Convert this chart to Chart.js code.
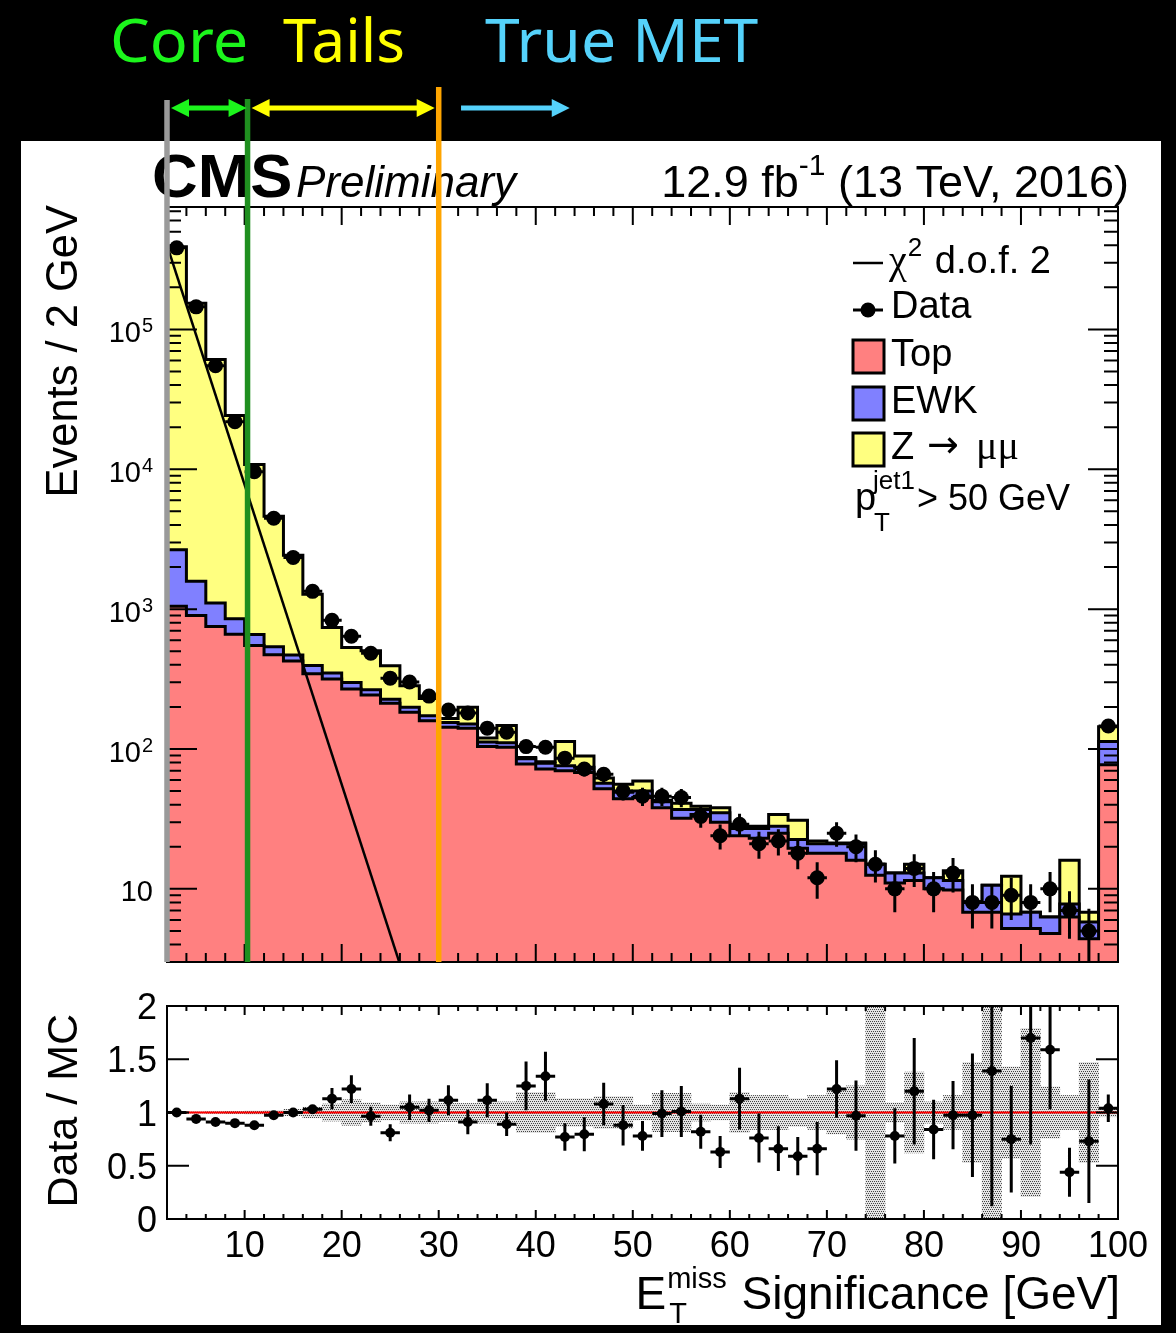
<!DOCTYPE html>
<html>
<head>
<meta charset="utf-8">
<title>MET significance</title>
<script src="https://cdn.jsdelivr.net/npm/chart.js@4.4.1/dist/chart.umd.min.js"></script>
<style>
  html, body { margin: 0; padding: 0; background: #000; }
  body { position: relative; width: 1176px; height: 1333px; overflow: hidden; }
  #sheet { position: absolute; left: 21px; top: 141px; width: 1140px; height: 1184px; background: #fff; }
  canvas { position: absolute; left: 0; }
  #main-chart { top: 0; }
  #ratio-chart { top: 985px; }
</style>
</head>
<body>
<div id="sheet"></div>
<canvas id="main-chart" width="1176" height="985"></canvas>
<canvas id="ratio-chart" width="1176" height="348"></canvas>
<script>
// 2 GeV bins from 2 to 100 (last bin holds the overflow)
const binCenters = [3, 5, 7, 9, 11, 13, 15, 17, 19, 21, 23, 25, 27, 29, 31, 33, 35, 37, 39, 41, 43, 45, 47, 49, 51,
                    53, 55, 57, 59, 61, 63, 65, 67, 69, 71, 73, 75, 77, 79, 81, 83, 85, 87, 89, 91, 93, 95, 97, 99];

const topMC = [1050, 900, 750, 660, 550, 472, 425, 345, 316, 268, 243, 212, 183, 159, 143, 141, 104, 103, 78, 72, 70, 68, 52, 44, 45,
               38, 32, 34, 30, 24, 23, 25, 19.5, 18, 18, 16, 12.5, 11, 11.5, 10, 9.8, 6.8, 6.8, 5.2, 5.2, 4.8, 6.3, 4.4, 77];
const ewkMC = [1610, 685, 357, 193, 108, 66, 44, 50, 33, 31, 22, 15, 16, 14, 12, 10, 8, 8, 7, 7, 6, 6, 5, 5, 5,
               4, 5, 3, 5, 3, 4, 3, 3, 3, 3, 5, 2.5, 2, 1.5, 2, 1.7, 1.3, 3.8, 1.4, 1.6, 1.5, 1.5, 1.4, 36];
const zmmMC = [387000, 152400, 59700, 23350, 10140, 4080, 1960, 885, 391, 233, 238, 167, 84, 57, 10, 48, 8, 36, 2, 2, 37, 15, 5, 7, 9,
               1, 4, 2, 3, 1, 1, 6, 8.5, 1, 0.3, 0.3, 0, 0, 2, 0, 2, 0, 0, 5.7, 0, 0, 8.2, 1, 31];

const dataCounts = [383000, 145000, 55000, 21900, 9600, 4460, 2340, 1340, 832, 640, 484, 321, 301, 239, 190, 181, 141, 132, 104, 103, 86, 72, 66, 50, 46,
                    46, 45, 33, 24, 29, 21, 22, 18, 12, 25, 20, 15, 10, 14, 10, 13, 8, 8, 9, 8, 10, 7, 5, 146];
// Poisson uncertainty of each count
const dataErr = [619, 381, 235, 148, 98, 67, 48, 37, 29, 25, 22, 18, 17, 15.5, 13.8, 13.5, 11.9, 11.5, 10.2, 10.1, 9.3, 8.5, 8.1, 7.1, 6.8,
                 6.8, 6.7, 5.7, 4.9, 5.4, 4.6, 4.7, 4.2, 3.5, 5, 4.5, 3.9, 3.2, 3.7, 3.2, 3.6, 2.8, 2.8, 3, 2.8, 3.2, 2.6, 2.2, 12.1];

// Data / MC
const ratioVals = [1.0, 0.94, 0.91, 0.9, 0.88, 0.975, 1.0, 1.03, 1.13, 1.22, 0.965, 0.81, 1.05, 1.02, 1.115, 0.91, 1.115, 0.89, 1.25, 1.34, 0.77, 0.795, 1.08, 0.88, 0.78,
                   0.99, 1.01, 0.82, 0.63, 1.13, 0.76, 0.66, 0.59, 0.66, 1.22, 0.97, null, 0.78, 1.2, 0.84, 0.975, 0.975, 1.39, 0.75, 1.7, 1.59, 0.44, 0.73, 1.04];
const ratioErr = [0.003, 0.004, 0.006, 0.008, 0.012, 0.02, 0.03, 0.04, 0.1, 0.13, 0.09, 0.08, 0.12, 0.11, 0.14, 0.115, 0.16, 0.11, 0.23, 0.23, 0.13, 0.16, 0.2, 0.19, 0.14,
                  0.22, 0.24, 0.16, 0.15, 0.29, 0.23, 0.21, 0.18, 0.25, 0.27, 0.33, null, 0.26, 0.5, 0.28, 0.32, 0.58, 1.27, 0.5, 1.0, 0.56, 0.23, 0.58, 0.13];
// half width of the MC uncertainty band
const mcBand = [0.005, 0.005, 0.008, 0.01, 0.015, 0.02, 0.03, 0.05, 0.08, 0.12, 0.09, 0.07, 0.1, 0.1, 0.085, 0.085, 0.1, 0.1, 0.19, 0.19, 0.13, 0.13, 0.15, 0.15, 0.07,
                0.18, 0.18, 0.08, 0.07, 0.19, 0.16, 0.16, 0.13, 0.16, 0.2, 0.25, 1.2, 0.09, 0.38, 0.1, 0.16, 0.47, 1.2, 0.43, 0.79, 0.24, 0.16, 0.47, 0.04];

// chi2 (2 d.o.f.) shape, straight on the log axis
const chi2X = [2, 26];
const chi2Y = [4.0e5, 2.9];

const xTickLabels = [10, 20, 30, 40, 50, 60, 70, 80, 90, 100];
const yDecades = [10, 100, 1000, 10000, 100000];
const ratioTicks = [0, 0.5, 1, 1.5, 2];

// Core | Tails | True MET boundaries
const regionEdges = [2, 10.3, 30];
const trueMetArrow = [32.3, 43.5];

const xMin = 2, xMax = 100;
const yMin = 3, yMax = 7.5e5;

const SANS = '"Liberation Sans", Arial, sans-serif';
const SERIF = '"Liberation Serif", "Times New Roman", serif';

const stackEwk = topMC.map((v, i) => v + ewkMC[i]);
const stackAll = stackEwk.map((v, i) => v + zmmMC[i]);

function steps(vals) {
  const pts = binCenters.map((c, i) => ({ x: c - 1, y: vals[i] }));
  pts.push({ x: xMax, y: vals[vals.length - 1] });
  return pts;
}

function errorBars(vals, errs) {
  const pts = [];
  binCenters.forEach((c, i) => {
    if (vals[i] == null) return;
    pts.push({ x: c - 1, y: vals[i] }, { x: c + 1, y: vals[i] }, { x: c, y: null });
    pts.push({ x: c, y: vals[i] - errs[i] }, { x: c, y: vals[i] + errs[i] }, { x: c, y: null });
  });
  return pts;
}

function markers(vals) {
  return binCenters.map((c, i) => ({ x: c, y: vals[i] })).filter(p => p.y != null);
}

function stipple() {
  const c = document.createElement('canvas');
  c.width = 4; c.height = 4;
  const g = c.getContext('2d');
  g.fillStyle = '#e4e4e4';
  g.fillRect(0, 0, 4, 4);
  g.fillStyle = '#444';
  g.fillRect(0, 0, 1, 1); g.fillRect(2, 0, 1, 1);
  g.fillRect(1, 2, 1, 1); g.fillRect(3, 2, 1, 1);
  return g.createPattern(c, 'repeat');
}

function text(ctx, s, x, y, font, opts = {}) {
  ctx.save();
  ctx.font = font;
  ctx.fillStyle = opts.color || '#000';
  ctx.textAlign = opts.align || 'left';
  ctx.textBaseline = 'alphabetic';
  ctx.translate(x, y);
  if (opts.rotate) ctx.rotate(opts.rotate);
  ctx.scale(opts.sx || 1, 1);
  ctx.fillText(s, 0, 0);
  const w = ctx.measureText(s).width * (opts.sx || 1);
  ctx.restore();
  return w;
}

function width(ctx, s, font) {
  ctx.save();
  ctx.font = font;
  const w = ctx.measureText(s).width;
  ctx.restore();
  return w;
}

function arrow(ctx, x1, x2, y, color, both) {
  const len = 18, half = 9;
  ctx.save();
  ctx.strokeStyle = color;
  ctx.fillStyle = color;
  ctx.lineWidth = 5;
  ctx.beginPath();
  ctx.moveTo(both ? x1 + len - 2 : x1, y);
  ctx.lineTo(x2 - len + 2, y);
  ctx.stroke();
  ctx.beginPath();
  ctx.moveTo(x2, y); ctx.lineTo(x2 - len, y - half); ctx.lineTo(x2 - len, y + half);
  ctx.closePath(); ctx.fill();
  if (both) {
    ctx.beginPath();
    ctx.moveTo(x1, y); ctx.lineTo(x1 + len, y - half); ctx.lineTo(x1 + len, y + half);
    ctx.closePath(); ctx.fill();
  }
  ctx.restore();
}

function xTicks(ctx, x, a, majorLen, minorLen) {
  ctx.beginPath();
  for (let v = 4; v < xMax; v += 2) {
    const px = x.getPixelForValue(v);
    const len = v % 10 === 0 ? majorLen : minorLen;
    ctx.moveTo(px, a.bottom); ctx.lineTo(px, a.bottom - len);
    ctx.moveTo(px, a.top); ctx.lineTo(px, a.top + len);
  }
  ctx.stroke();
}

const mainDecor = {
  id: 'mainDecor',
  afterDraw(chart) {
    const { ctx, chartArea: a, scales: { x, y } } = chart;
    ctx.save();
    ctx.strokeStyle = '#000';
    ctx.lineWidth = 2;
    ctx.strokeRect(a.left, a.top, a.right - a.left, a.bottom - a.top);
    xTicks(ctx, x, a, 18, 9);

    // log ticks on both sides
    ctx.beginPath();
    for (let d = 1; d <= 1e5; d *= 10) {
      for (let k = 1; k <= 9; k++) {
        const v = k * d;
        if (v <= yMin || v >= yMax) continue;
        const py = y.getPixelForValue(v);
        const len = k === 1 ? 30 : 14;
        ctx.moveTo(a.left, py); ctx.lineTo(a.left + len, py);
        ctx.moveTo(a.right, py); ctx.lineTo(a.right - len, py);
      }
    }
    ctx.stroke();

    yDecades.forEach(v => {
      const py = y.getPixelForValue(v);
      const exp = Math.round(Math.log10(v));
      if (exp === 1) {
        text(ctx, '10', 153, py + 12, `29px ${SANS}`, { align: 'right' });
      } else {
        text(ctx, String(exp), 153, py + 3, `20px ${SANS}`, { align: 'right' });
        text(ctx, '10', 141, py + 13, `29px ${SANS}`, { align: 'right' });
      }
    });

    text(ctx, 'Events / 2 GeV', 77, a.top - 2, `43.5px ${SANS}`, { align: 'right', rotate: -Math.PI / 2 });

    // labels above the frame
    text(ctx, 'CMS', 152, 197, `bold 62px ${SANS}`, { sx: 1.02 });
    text(ctx, 'Preliminary', 296, 197, `italic 44px ${SANS}`);
    const tail = ' (13 TeV, 2016)';
    const wTail = width(ctx, tail, `45px ${SANS}`);
    text(ctx, tail, 1129, 197, `45px ${SANS}`, { align: 'right' });
    const wSup = text(ctx, '-1', 1129 - wTail, 175, `30px ${SANS}`, { align: 'right' });
    text(ctx, '12.9 fb', 1129 - wTail - wSup, 197, `45px ${SANS}`, { align: 'right' });

    // legend
    const lx = 853, tx = 891;
    ctx.lineWidth = 2.5;
    ctx.beginPath(); ctx.moveTo(lx, 263); ctx.lineTo(lx + 30, 263); ctx.stroke();
    let w = text(ctx, 'χ', 889, 273, `40px ${SERIF}`);
    w += text(ctx, '2', 889 + w + 1, 256, `26px ${SANS}`);
    text(ctx, ' d.o.f. 2', 889 + w + 3, 273, `38px ${SANS}`);

    ctx.lineWidth = 3;
    ctx.beginPath(); ctx.moveTo(lx, 310); ctx.lineTo(lx + 30, 310); ctx.stroke();
    ctx.beginPath(); ctx.arc(lx + 15, 310, 7.5, 0, Math.PI * 2); ctx.fillStyle = '#000'; ctx.fill();
    text(ctx, 'Data', tx, 318, `38px ${SANS}`);

    const boxes = [['Top', '#ff8080', 340], ['EWK', '#8080ff', 387], ['Z', '#ffff80', 433]];
    boxes.forEach(([name, color, top]) => {
      ctx.fillStyle = color;
      ctx.fillRect(lx, top, 31, 33);
      ctx.lineWidth = 3;
      ctx.strokeStyle = '#000';
      ctx.strokeRect(lx, top, 31, 33);
      text(ctx, name, tx, top + 26, `38px ${SANS}`);
    });
    text(ctx, '→', 927, 457, `38px "DejaVu Sans", sans-serif`);
    text(ctx, 'μμ', 976, 459, `40px ${SERIF}`);

    text(ctx, 'p', 855, 510, `38px ${SANS}`);
    text(ctx, 'jet1', 873, 489, `26px ${SANS}`);
    text(ctx, 'T', 874, 531, `26px ${SANS}`);
    text(ctx, '> 50 GeV', 917, 510, `36px ${SANS}`);

    // region markers running up into the header
    const lineColors = ['#9a9a9a', '#1f8f1f', '#ffa500'];
    const lineTops = [100, 99, 87];
    regionEdges.forEach((v, i) => {
      const px = x.getPixelForValue(v);
      ctx.strokeStyle = lineColors[i];
      ctx.lineWidth = 5.5;
      ctx.beginPath(); ctx.moveTo(px, lineTops[i]); ctx.lineTo(px, a.bottom); ctx.stroke();
    });

    const e0 = x.getPixelForValue(regionEdges[0]);
    const e1 = x.getPixelForValue(regionEdges[1]);
    const e2 = x.getPixelForValue(regionEdges[2]);
    arrow(ctx, e0 + 4, e1 - 1, 108, '#1cf51c', true);
    arrow(ctx, e1 + 4, e2 - 4, 108, '#ffff00', true);
    arrow(ctx, x.getPixelForValue(trueMetArrow[0]), x.getPixelForValue(trueMetArrow[1]), 108, '#55d2fb', false);

    text(ctx, 'Core', 110, 62, `60px "Noto Sans", sans-serif`, { color: '#1cf51c', sx: 1.05 });
    text(ctx, 'Tails', 283, 62, `60px "Noto Sans", sans-serif`, { color: '#ffff00' });
    text(ctx, 'True MET', 485, 62, `60px "Noto Sans", sans-serif`, { color: '#55d2fb', sx: 1.04 });
    ctx.restore();
  }
};

const ratioDecor = {
  id: 'ratioDecor',
  afterDraw(chart) {
    const { ctx, chartArea: a, scales: { x, y } } = chart;
    ctx.save();
    ctx.strokeStyle = '#000';
    ctx.lineWidth = 2;
    ctx.strokeRect(a.left, a.top, a.right - a.left, a.bottom - a.top);
    xTicks(ctx, x, a, 9, 5);

    ctx.beginPath();
    ratioTicks.forEach(v => {
      const py = y.getPixelForValue(v);
      ctx.moveTo(a.left, py); ctx.lineTo(a.left + 22, py);
      ctx.moveTo(a.right, py); ctx.lineTo(a.right - 22, py);
    });
    ctx.stroke();

    ratioTicks.forEach(v => {
      text(ctx, String(v), 157, y.getPixelForValue(v) + 13, `36px ${SANS}`, { align: 'right' });
    });
    xTickLabels.forEach(v => {
      text(ctx, String(v), x.getPixelForValue(v), a.bottom + 38, `36px ${SANS}`, { align: 'center' });
    });

    text(ctx, 'Data / MC', 77, a.top + 8, `43px ${SANS}`, { align: 'right', rotate: -Math.PI / 2 });

    // E_T^miss Significance [GeV]
    const base = a.bottom + 90;
    const rest = ' Significance [GeV]';
    const wRest = text(ctx, rest, 1120, base, `46px ${SANS}`, { align: 'right' });
    const wMiss = width(ctx, 'miss', `29px ${SANS}`);
    const sx = 1120 - wRest - wMiss - 2;
    text(ctx, 'miss', sx, base - 21, `29px ${SANS}`);
    text(ctx, 'T', sx + 2, base + 14, `29px ${SANS}`);
    text(ctx, 'E', sx - 1, base, `46px ${SANS}`, { align: 'right' });
    ctx.restore();
  }
};

const stepStyle = { stepped: 'before', fill: 'start', borderColor: '#000', borderWidth: 3, pointRadius: 0 };

new Chart(document.getElementById('main-chart'), {
  type: 'line',
  data: {
    datasets: [
      { ...stepStyle, label: 'Z -> mumu', data: steps(stackAll), backgroundColor: '#ffff80', order: 6 },
      { ...stepStyle, label: 'EWK', data: steps(stackEwk), backgroundColor: '#8080ff', order: 5 },
      { ...stepStyle, label: 'Top', data: steps(topMC), backgroundColor: '#ff8080', order: 4 },
      { label: 'chi2', data: chi2X.map((v, i) => ({ x: v, y: chi2Y[i] })), borderColor: '#000', borderWidth: 2.5,
        pointRadius: 0, fill: false, order: 3 },
      { label: 'Data errors', data: errorBars(dataCounts, dataErr), borderColor: '#000', borderWidth: 3,
        pointRadius: 0, fill: false, order: 2 },
      { label: 'Data', data: markers(dataCounts), showLine: false, pointRadius: 7.5,
        pointBackgroundColor: '#000', pointBorderWidth: 0, order: 1 }
    ]
  },
  options: {
    responsive: false,
    animation: false,
    events: [],
    layout: { padding: { left: 167, right: 58, top: 207, bottom: 23 } },
    scales: {
      x: { type: 'linear', min: xMin, max: xMax, offset: false, display: false },
      y: { type: 'logarithmic', min: yMin, max: yMax, display: false }
    },
    plugins: { legend: { display: false }, tooltip: { enabled: false } }
  },
  plugins: [mainDecor]
});

new Chart(document.getElementById('ratio-chart'), {
  type: 'line',
  data: {
    datasets: [
      { type: 'bar', label: 'MC uncertainty', data: binCenters.map((c, i) => ({ x: c, y: [1 - mcBand[i], 1 + mcBand[i]] })),
        backgroundColor: stipple(), borderWidth: 0, barPercentage: 1, categoryPercentage: 1, order: 4 },
      { label: 'unity', data: [{ x: xMin, y: 1 }, { x: xMax, y: 1 }], borderColor: '#ff0000', borderWidth: 2,
        pointRadius: 0, fill: false, order: 3 },
      { label: 'Ratio errors', data: errorBars(ratioVals, ratioErr), borderColor: '#000', borderWidth: 3,
        pointRadius: 0, fill: false, order: 2 },
      { label: 'Ratio', data: markers(ratioVals), showLine: false, pointRadius: 5,
        pointBackgroundColor: '#000', pointBorderWidth: 0, order: 1 }
    ]
  },
  options: {
    responsive: false,
    animation: false,
    events: [],
    layout: { padding: { left: 167, right: 58, top: 21, bottom: 114 } },
    scales: {
      x: { type: 'linear', min: xMin, max: xMax, offset: false, display: false },
      y: { type: 'linear', min: 0, max: 2, display: false }
    },
    plugins: { legend: { display: false }, tooltip: { enabled: false } }
  },
  plugins: [ratioDecor]
});
</script>
</body>
</html>
